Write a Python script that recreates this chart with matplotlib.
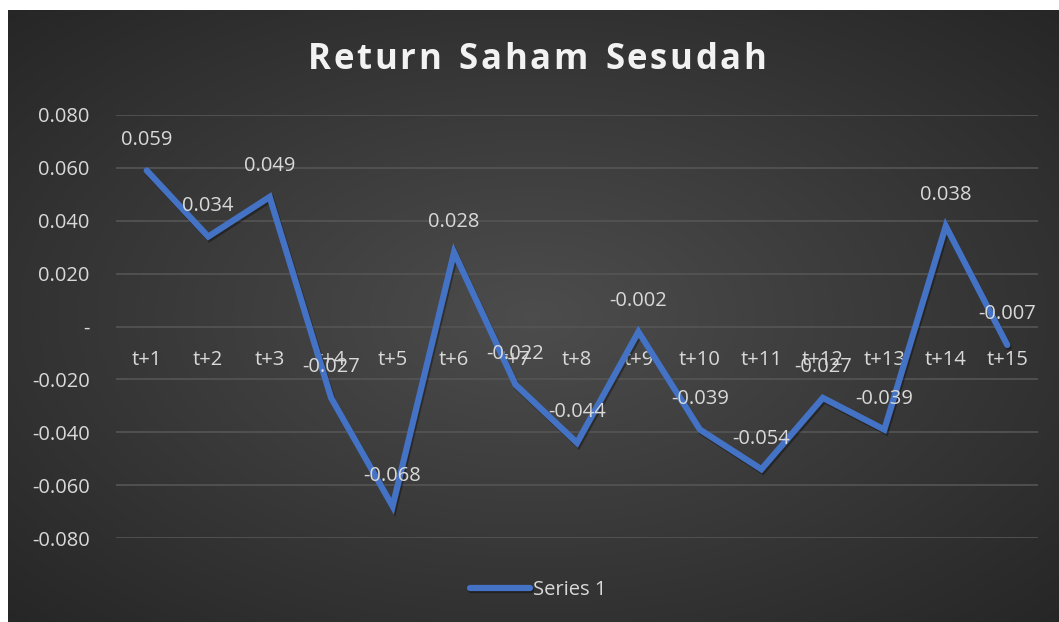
import matplotlib.pyplot as plt
import numpy as np
from matplotlib.ticker import FuncFormatter
import matplotlib.patheffects as pe

# Data
periods = ['t+1', 't+2', 't+3', 't+4', 't+5', 't+6', 't+7', 't+8',
           't+9', 't+10', 't+11', 't+12', 't+13', 't+14', 't+15']
returns = [0.059, 0.034, 0.049, -0.027, -0.068, 0.028, -0.022, -0.044,
           -0.002, -0.039, -0.054, -0.027, -0.039, 0.038, -0.007]
y_ticks = [-0.08, -0.06, -0.04, -0.02, 0.0, 0.02, 0.04, 0.06, 0.08]
title = 'Return Saham Sesudah'

text_col = '#D9D9D9'
line_col = '#4472C4'
fs = 14.5
plt.rcParams['font.family'] = ['Open Sans', 'DejaVu Sans']

fig = plt.figure(figsize=(10.59, 6.22), dpi=100)
fig.patch.set_facecolor('white')

# Dark radial gradient background (chart area)
bg = fig.add_axes([8 / 1059, 0, 1 - 8 / 1059, 1 - 10 / 622])
gx, gy = np.meshgrid(np.linspace(-1, 1, 400), np.linspace(-1, 1, 240))
r = np.clip(np.sqrt(gx ** 2 + gy ** 2) / np.sqrt(2), 0, 1)
shade = 0.30 - 0.15 * r
bg.imshow(np.dstack([shade] * 3), aspect='auto', extent=[0, 1, 0, 1])
bg.set_axis_off()

ax = fig.add_axes([116 / 1059, 1 - 538 / 622, (1038 - 116) / 1059, (538 - 115) / 622])
ax.patch.set_alpha(0)
x = np.arange(1, len(periods) + 1)
ax.plot(x, returns, color=line_col, lw=4.5, solid_joinstyle='miter',
        solid_capstyle='round', label='Series 1', zorder=3,
        path_effects=[pe.SimpleLineShadow(offset=(1, -1.5), alpha=0.35), pe.Normal()])

# data labels above each point
for xi, v in zip(x, returns):
    ax.annotate(f'{v:.3f}', (xi, v), xytext=(0, 22), textcoords='offset points',
                ha='center', va='center', color=text_col, fontsize=fs, zorder=4)

ax.set_xlim(0.5, len(periods) + 0.5)
ax.set_ylim(-0.08, 0.08)
ax.set_yticks(y_ticks)
ax.yaxis.set_major_formatter(FuncFormatter(lambda v, p: '-' if abs(v) < 1e-9 else f'{v:.3f}'))
ax.grid(axis='y', color='#555555', lw=1.2)
ax.set_axisbelow(True)

ax.set_xticks(x)
ax.set_xticklabels(periods)
ax.spines['bottom'].set_position(('data', 0))
for s in ax.spines.values():
    s.set_visible(False)
ax.tick_params(axis='x', length=0, pad=17, colors=text_col, labelsize=fs)
ax.tick_params(axis='y', length=0, pad=19, colors=text_col, labelsize=fs)

# Title with letter spacing (Excel style)
renderer = fig.canvas.get_renderer()
tkw = dict(color='#F2F2F2', fontsize=25, fontweight='bold', va='center', ha='left')
spacing = 2.6  # px between letters
widths = []
for ch in title:
    t = fig.text(0, 0, ch if ch != ' ' else 'n', **tkw)
    w = t.get_window_extent(renderer).width
    widths.append(w * (0.55 if ch == ' ' else 1.0))
    t.remove()
total = sum(widths) + spacing * (len(title) - 1)
xpos = 537 - total / 2
for ch, w in zip(title, widths):
    if ch != ' ':
        fig.text(xpos / 1059, 1 - 60 / 622, ch, **tkw)
    xpos += w + spacing

fig.legend(loc='center', bbox_to_anchor=(0.508, 1 - 590 / 622), frameon=False,
           labelcolor=text_col, fontsize=fs, handlelength=3.0, handletextpad=0.15)

fig.savefig('out.png', dpi=100, facecolor=fig.get_facecolor())
